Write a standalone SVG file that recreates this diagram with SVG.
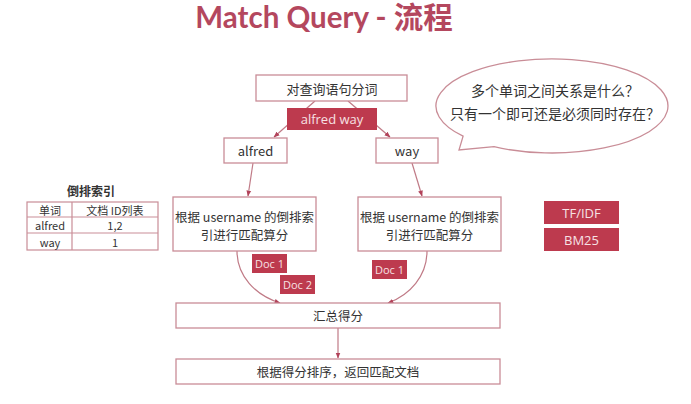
<svg xmlns="http://www.w3.org/2000/svg" width="691" height="404" viewBox="0 0 691 404">
<defs>
<style>
.box{fill:#fff;stroke:#c98d97;stroke-width:1.3}
.red{fill:#bd3a4e;stroke:none}
.t{font-family:"Noto Sans CJK SC","Open Sans","Liberation Sans",sans-serif;fill:#333;text-anchor:middle;dominant-baseline:central}
.w{font-family:"Open Sans","Noto Sans CJK SC",sans-serif;fill:#f7e1e4;text-anchor:middle;dominant-baseline:central}
.ln{fill:none;stroke:#c07a86;stroke-width:1.2}
</style>
<marker id="ah" viewBox="0 0 10 10" refX="9" refY="5" markerWidth="6" markerHeight="6" orient="auto" markerUnits="userSpaceOnUse">
<path d="M0,1 L10,5 L0,9 Z" fill="#b2435a"/>
</marker>
</defs>
<rect width="691" height="404" fill="#fff"/>
<text x="324" y="28" font-family="Lato,'Open Sans','Noto Sans CJK SC',sans-serif" font-weight="bold" font-size="29.5" fill="#b4475e" text-anchor="middle">Match Query - 流程</text>

<g id="connectors">
<path class="ln" d="M315,101 L274,137" marker-end="url(#ah)"/>
<path class="ln" d="M348,101 L390,137" marker-end="url(#ah)"/>
<path class="ln" d="M253,163 L248,196" marker-end="url(#ah)"/>
<path class="ln" d="M412,163 L422,196" marker-end="url(#ah)"/>
<path class="ln" d="M237,251 C237,276 255,295 280,303" marker-end="url(#ah)"/>
<path class="ln" d="M427,251 C427,276 410,295 388,303" marker-end="url(#ah)"/>
<path class="ln" d="M338,328 L338,358" marker-end="url(#ah)"/>
</g>

<g id="n-split"><rect class="box" x="256" y="75" width="151" height="26"/><text class="t" x="332" y="88" font-size="13">对查询语句分词</text></g>
<g id="n-query"><rect class="red" x="287" y="108" width="90" height="22"/><text class="w" x="332" y="119" font-size="13">alfred way</text></g>
<g id="n-alfred"><rect class="box" x="224" y="138" width="63" height="25"/><text class="t" x="255.5" y="150.5" font-size="13">alfred</text></g>
<g id="n-way"><rect class="box" x="376" y="138" width="62" height="25"/><text class="t" x="407" y="150.5" font-size="13">way</text></g>

<g id="n-score-left"><rect class="box" x="173" y="197" width="143" height="54"/>
<text class="t" x="244.5" y="216" font-size="12.5">根据 username 的倒排索</text>
<text class="t" x="244.5" y="234.5" font-size="12.5">引进行匹配算分</text></g>
<g id="n-score-right"><rect class="box" x="358" y="197" width="143" height="54"/>
<text class="t" x="429.5" y="216" font-size="12.5">根据 username 的倒排索</text>
<text class="t" x="429.5" y="234.5" font-size="12.5">引进行匹配算分</text></g>

<g id="n-doc1-left"><rect class="red" x="252" y="254" width="35" height="19"/><text class="w" x="269.5" y="263.5" font-size="11">Doc 1</text></g>
<g id="n-doc2-left"><rect class="red" x="280" y="275" width="35" height="19"/><text class="w" x="297.5" y="284.5" font-size="11">Doc 2</text></g>
<g id="n-doc1-right"><rect class="red" x="372" y="260" width="35" height="19"/><text class="w" x="389.5" y="269.5" font-size="11">Doc 1</text></g>

<g id="n-sum"><rect class="box" x="176" y="303" width="324" height="25"/><text class="t" x="338" y="315.5" font-size="12.5">汇总得分</text></g>
<g id="n-sort"><rect class="box" x="176" y="359" width="324" height="25"/><text class="t" x="338" y="371.5" font-size="12.5">根据得分排序，返回匹配文档</text></g>

<g id="n-bubble">
<path d="M463.1,136.2 A116,47 0 1 1 494,146.7 L459,150 Z" fill="#fff" stroke="#c98d97" stroke-width="1.3"/>
<text class="t" x="555" y="90" font-size="14">多个单词之间关系是什么？</text>
<text class="t" x="555" y="113" font-size="14">只有一个即可还是必须同时存在？</text>
</g>

<g id="n-index">
<text class="t" x="91" y="190" font-size="12" font-weight="bold">倒排索引</text>
<rect x="27" y="202" width="131" height="48" fill="#fff" stroke="#c98d97" stroke-width="1.2"/>
<line x1="27" y1="217" x2="158" y2="217" stroke="#c98d97" stroke-width="1.2"/>
<line x1="27" y1="233" x2="158" y2="233" stroke="#c98d97" stroke-width="1.2"/>
<line x1="72" y1="202" x2="72" y2="250" stroke="#c98d97" stroke-width="1.2"/>
<text class="t" x="50" y="209.5" font-size="11">单词</text>
<text class="t" x="115" y="209.5" font-size="11">文档 ID列表</text>
<text class="t" x="50" y="225" font-size="11">alfred</text>
<text class="t" x="115" y="225" font-size="11">1,2</text>
<text class="t" x="50" y="241.5" font-size="11">way</text>
<text class="t" x="115" y="241.5" font-size="11">1</text>
</g>

<g id="n-tfidf"><rect class="red" x="544" y="201" width="75" height="23"/><text class="w" x="581.5" y="212.5" font-size="13">TF/IDF</text></g>
<g id="n-bm25"><rect class="red" x="544" y="228" width="75" height="23"/><text class="w" x="581.5" y="239.5" font-size="13">BM25</text></g>
</svg>
